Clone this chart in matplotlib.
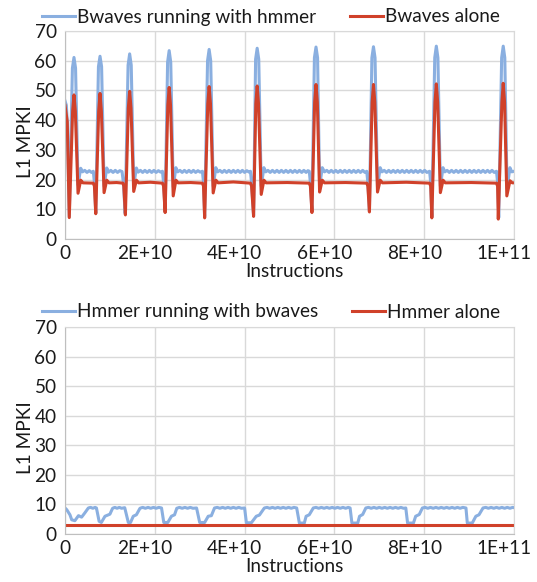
import matplotlib
matplotlib.use("Agg")
import matplotlib.pyplot as plt
import matplotlib.transforms as mtransforms

plt.rcParams['font.family'] = ['Lato', 'DejaVu Sans']

# x values are in units of 1e9 instructions
top_blue_x = [
    0.0, 0.3, 0.55, 0.95, 1.65, 2.0, 2.35, 2.9, 3.5, 3.9, 4.4, 4.9, 5.4, 5.9, 6.3,
    6.55, 6.85, 7.45, 7.8, 8.15, 8.7, 9.3, 9.7, 10.2, 10.7, 11.2, 11.7, 12.2, 12.7,
    13.0, 13.4, 14.05, 14.4, 14.75, 15.3, 15.9, 16.3, 16.8, 17.3, 17.8, 18.3, 18.8, 19.3, 19.8, 20.3, 20.8, 21.3, 21.7,
    21.95, 22.3, 22.85, 23.2, 23.55, 24.1, 24.7, 25.1, 25.6, 26.1, 26.6, 27.1, 27.6, 28.1, 28.6, 29.1, 29.6, 30.1, 30.6,
    30.85, 31.1, 31.75, 32.1, 32.45, 33.0, 33.6, 34.0, 34.5, 35.0, 35.5, 36.0, 36.5, 37.0, 37.5, 38.0, 38.5, 39.0, 39.5, 40.0, 40.5, 41.0, 41.3,
    41.55, 42.0, 42.45, 42.8, 43.15, 43.7, 44.3, 44.7, 45.2, 45.7, 46.2, 46.7, 47.2, 47.7, 48.2, 48.7, 49.2, 49.7, 50.2, 50.7, 51.2, 51.7, 52.2, 52.7, 53.2, 53.7, 54.1, 54.4,
    54.65, 55.0, 55.55, 55.9, 56.25, 56.7, 57.3, 57.8, 58.3, 58.8, 59.3, 59.8, 60.3, 60.8, 61.3, 61.8, 62.3, 62.8, 63.3, 63.8, 64.3, 64.8, 65.3, 65.8, 66.3, 66.8, 67.2,
    67.45, 67.8, 68.35, 68.7, 69.05, 69.6, 70.2, 70.6, 71.1, 71.6, 72.1, 72.6, 73.1, 73.6, 74.1, 74.6, 75.1, 75.6, 76.1, 76.6, 77.1, 77.6, 78.1, 78.6, 79.1, 79.6, 80.1, 80.6, 81.2,
    81.45, 81.7, 82.35, 82.7, 83.05, 83.6, 84.2, 84.6, 85.1, 85.6, 86.1, 86.6, 87.1, 87.6, 88.1, 88.6, 89.1, 89.6, 90.1, 90.6, 91.1, 91.6, 92.1, 92.6, 93.1, 93.6, 94.1, 94.6, 95.1, 95.6, 96.1,
    96.35, 96.6, 97.25, 97.6, 97.95, 98.45, 99.1, 99.5, 100.0,
]
top_blue_y = [
    46.5, 45.0, 38.0, 7.5, 57.5, 61.1, 57.5, 18.2, 23.8, 22.6, 23.1, 22.4, 23.0, 22.4, 22.8,
    19.0, 8.8, 58.0, 61.5, 58.0, 17.8, 23.9, 22.5, 23.1, 22.4, 23.1, 22.4, 23.0, 22.7,
    19.0, 8.6, 58.5, 62.3, 58.5, 18.0, 23.9, 22.5, 23.1, 22.4, 23.1, 22.4, 23.1, 22.4, 23.1, 22.4, 23.0, 22.5, 22.8,
    19.0, 9.2, 59.5, 63.4, 59.5, 17.5, 24.0, 22.6, 23.1, 22.4, 23.1, 22.4, 23.1, 22.4, 23.1, 22.4, 23.0, 22.5, 22.8,
    19.0, 7.6, 60.0, 63.8, 60.0, 17.8, 24.0, 22.6, 23.1, 22.4, 23.1, 22.4, 23.1, 22.4, 23.1, 22.4, 23.1, 22.4, 23.1, 22.4, 23.0, 22.5, 22.8,
    19.0, 8.0, 60.5, 64.2, 60.5, 17.8, 24.0, 22.6, 23.1, 22.4, 23.1, 22.4, 23.1, 22.4, 23.1, 22.4, 23.1, 22.4, 23.1, 22.4, 23.1, 22.4, 23.1, 22.4, 23.1, 22.4, 23.0, 22.8,
    19.0, 9.3, 61.0, 64.6, 61.0, 17.8, 24.0, 22.6, 23.1, 22.4, 23.1, 22.4, 23.1, 22.4, 23.1, 22.4, 23.1, 22.4, 23.1, 22.4, 23.1, 22.4, 23.1, 22.4, 23.1, 22.4, 22.8,
    19.0, 9.5, 61.0, 64.7, 61.0, 17.8, 24.0, 22.6, 23.1, 22.4, 23.1, 22.4, 23.1, 22.4, 23.1, 22.4, 23.1, 22.4, 23.1, 22.4, 23.1, 22.4, 23.1, 22.4, 23.1, 22.4, 23.1, 22.4, 22.8,
    19.0, 7.5, 61.0, 64.9, 61.0, 17.8, 24.0, 22.6, 23.1, 22.4, 23.1, 22.4, 23.1, 22.4, 23.1, 22.4, 23.1, 22.4, 23.1, 22.4, 23.1, 22.4, 23.1, 22.4, 23.1, 22.4, 23.1, 22.4, 23.1, 22.4, 22.8,
    19.0, 7.2, 61.0, 64.9, 61.0, 17.0, 24.0, 22.6, 22.8,
]

top_red_x = [
    0.0, 0.5, 0.95, 1.7, 2.0, 2.3, 2.9, 3.5, 4.0, 6.3,
    6.55, 6.85, 7.5, 7.8, 8.1, 8.7, 9.3, 9.8, 11.5, 12.9,
    13.1, 13.45, 14.1, 14.4, 14.7, 15.3, 15.9, 16.4, 19.0, 21.7,
    21.95, 22.3, 22.9, 23.2, 23.5, 24.1, 24.7, 25.2, 28.0, 30.6,
    30.85, 31.1, 31.8, 32.1, 32.4, 33.0, 33.6, 34.1, 37.5, 41.3,
    41.55, 42.0, 42.5, 42.8, 43.1, 43.7, 44.3, 44.8, 49.5, 54.4,
    54.65, 55.0, 55.6, 55.9, 56.2, 56.7, 57.3, 57.8, 62.5, 67.2,
    67.45, 67.8, 68.4, 68.7, 69.0, 69.6, 70.2, 70.7, 76.0, 81.2,
    81.45, 81.7, 82.4, 82.7, 83.0, 83.6, 84.2, 84.7, 90.5, 96.1,
    96.35, 96.5, 97.3, 97.6, 97.9, 98.4, 99.1, 99.6, 100.0,
]
top_red_y = [
    45.0, 39.5, 7.2, 43.0, 48.5, 43.0, 15.4, 19.8, 18.9, 18.8,
    17.8, 8.5, 43.0, 49.0, 43.0, 15.6, 19.8, 18.9, 19.0, 18.8,
    17.8, 8.1, 44.0, 49.7, 44.0, 16.0, 19.8, 18.9, 19.1, 18.8,
    17.8, 8.9, 45.0, 51.0, 45.0, 14.5, 19.8, 18.9, 19.0, 18.8,
    17.8, 7.1, 45.5, 51.3, 45.5, 15.5, 19.8, 18.9, 19.2, 18.8,
    17.8, 7.6, 45.5, 51.5, 45.5, 15.0, 19.8, 18.9, 19.0, 18.8,
    17.8, 8.9, 46.0, 52.0, 46.0, 15.8, 19.8, 18.9, 19.0, 18.8,
    17.8, 9.1, 46.0, 52.0, 46.0, 15.8, 19.8, 18.9, 19.1, 18.8,
    17.8, 7.1, 46.0, 52.2, 46.0, 15.6, 19.8, 18.9, 19.0, 18.8,
    17.8, 6.7, 46.0, 52.4, 46.0, 14.5, 19.6, 18.9, 18.9,
]

bot_blue_x = [
    0.0, 0.4, 1.1, 1.5, 2.2, 3.0, 3.7, 4.4, 5.2, 5.7, 6.2, 6.7, 7.0,
    7.6, 8.1, 8.9, 10.0, 10.6, 11.1, 11.6, 12.1, 12.6, 13.3,
    14.1, 14.6, 15.2, 15.9, 16.7, 17.3, 17.9, 18.5, 19.1, 19.7, 20.3, 20.9, 21.5,
    22.0, 22.9, 23.7, 24.4, 24.9, 25.5, 26.1, 26.7, 27.3, 27.9, 28.5, 29.3,
    30.0, 31.1, 31.9, 32.6, 33.3, 33.9, 34.5, 35.1, 35.7, 36.3, 36.9, 37.5, 38.1, 38.7, 39.3, 40.0,
    40.4, 41.5, 42.6, 43.3, 44.4, 45.0, 45.6, 46.2, 46.8, 47.4, 48.0, 48.6, 49.2, 49.8, 50.4, 51.0, 51.6,
    52.2, 53.3, 53.7, 54.4, 55.3, 55.9, 56.5, 57.1, 57.7, 58.3, 58.9, 59.5, 60.1, 60.7, 61.3, 61.9, 62.5, 63.1, 63.5,
    63.9, 65.2, 65.6, 66.3, 67.0, 67.6, 68.2, 68.8, 69.4, 70.0, 70.6, 71.2, 71.8, 72.4, 73.0, 73.6, 74.2, 74.8, 75.4, 75.9,
    76.3, 77.6, 78.1, 78.9, 79.6, 80.2, 80.8, 81.4, 82.0, 82.6, 83.2, 83.8, 84.4, 85.0, 85.6, 86.2, 86.8, 87.4, 88.0, 88.6, 89.3,
    89.6, 90.7, 91.5, 92.2, 93.1, 93.7, 94.3, 94.9, 95.5, 96.1, 96.7, 97.3, 97.9, 98.5, 99.1, 99.7, 100.0,
]
bot_blue_y = [
    8.8, 8.2, 6.5, 4.8, 4.5, 6.2, 5.7, 7.1, 8.8, 9.0, 8.7, 9.0, 8.8,
    4.3, 3.9, 6.0, 6.7, 8.7, 9.0, 8.7, 9.0, 8.7, 8.9,
    3.9, 3.9, 6.0, 6.5, 8.7, 9.0, 8.7, 9.0, 8.7, 9.0, 8.7, 9.0, 8.8,
    3.9, 3.9, 6.0, 6.5, 8.7, 9.0, 8.7, 9.0, 8.7, 9.0, 8.7, 8.8,
    3.9, 3.9, 6.0, 6.2, 8.8, 9.0, 8.7, 9.0, 8.7, 9.0, 8.7, 9.0, 8.7, 9.0, 8.7, 8.8,
    3.8, 3.8, 6.0, 6.4, 8.8, 9.0, 8.7, 9.0, 8.7, 9.0, 8.7, 9.0, 8.7, 9.0, 8.7, 9.0, 8.8,
    3.7, 3.7, 6.0, 6.5, 8.8, 9.0, 8.7, 9.0, 8.7, 9.0, 8.7, 9.0, 8.7, 9.0, 8.7, 9.0, 8.7, 9.0, 8.8,
    3.7, 3.7, 6.0, 6.6, 8.8, 9.0, 8.7, 9.0, 8.7, 9.0, 8.7, 9.0, 8.7, 9.0, 8.7, 9.0, 8.7, 9.0, 8.7, 8.8,
    3.7, 3.7, 6.0, 6.6, 8.8, 9.0, 8.7, 9.0, 8.7, 9.0, 8.7, 9.0, 8.7, 9.0, 8.7, 9.0, 8.7, 9.0, 8.7, 9.0, 8.8,
    3.7, 3.7, 6.0, 6.5, 8.8, 9.0, 8.7, 9.0, 8.7, 9.0, 8.7, 9.0, 8.7, 9.0, 8.7, 9.0, 8.9,
]

bot_red_x = [0.0, 100.0]
bot_red_y = [3.1, 3.1]

xtick_vals = [0, 2e10, 4e10, 6e10, 8e10, 1e11]
xtick_labels = ["0", "2E+10", "4E+10", "6E+10", "8E+10", "1E+11"]
ytick_vals = [0, 10, 20, 30, 40, 50, 60, 70]

BLUE = '#8aafe0'
RED = '#d0412a'
GRID = '#d9d9d9'
FS = 13.7

fig = plt.figure(figsize=(5.37, 5.82), dpi=100)
W, H = 537, 582
ax1 = fig.add_axes([65 / W, 1 - 239 / H, 449 / W, 208 / H])
ax2 = fig.add_axes([65 / W, 1 - 534 / H, 449 / W, 207 / H])

panels = [
    (ax1, top_blue_x, top_blue_y, top_red_x, top_red_y,
     "Bwaves running with hmmer", "Bwaves alone", 1 - 17 / H),
    (ax2, bot_blue_x, bot_blue_y, bot_red_x, bot_red_y,
     "Hmmer running with bwaves", "Hmmer alone", 1 - 312 / H),
]

for ax, bx, by, rx, ry, blab, rlab, ly in panels:
    ax.plot([v * 1e9 for v in bx], by, color=BLUE, lw=2.2, label=blab,
            solid_joinstyle='round')
    ax.plot([v * 1e9 for v in rx], ry, color=RED, lw=2.2, label=rlab,
            solid_joinstyle='round')
    ax.set_xlim(0, 1e11)
    ax.set_ylim(0, 70)
    ax.set_xticks(xtick_vals)
    ax.set_xticklabels(xtick_labels)
    ax.set_yticks(ytick_vals)
    ax.tick_params(length=0, labelsize=FS, colors='#1a1a1a')
    ax.tick_params(axis='x', pad=4)
    ax.tick_params(axis='y', pad=6)
    ax.grid(True, color=GRID, lw=1.0)
    ax.set_axisbelow(True)
    for side in ['top', 'right']:
        ax.spines[side].set_color(GRID)
    for side in ['left', 'bottom']:
        ax.spines[side].set_color('#bfbfbf')
    # Excel draws the non-zero x labels a little to the left
    shift = mtransforms.ScaledTranslation(-10 / 100, 0, fig.dpi_scale_trans)
    for lab in ax.get_xticklabels()[1:]:
        lab.set_transform(lab.get_transform() + shift)
    ax.set_xlabel("Instructions", fontsize=FS, va='center', color='#1a1a1a')
    ax.xaxis.set_label_coords(0.512, -0.157)
    ax.set_ylabel("L1 MPKI", fontsize=FS, va='center', ha='center', color='#1a1a1a')
    ax.yaxis.set_label_coords(-0.089, 0.466)
    leg = ax.legend(loc='center', bbox_to_anchor=(271 / W, ly),
                    bbox_transform=fig.transFigure, ncol=2, frameon=False,
                    fontsize=FS, handlelength=1.75, handletextpad=0.12,
                    columnspacing=1.75, borderpad=0, borderaxespad=0)
    for t in leg.get_texts():
        t.set_color('#1a1a1a')

fig.savefig("out.png", dpi=100)
